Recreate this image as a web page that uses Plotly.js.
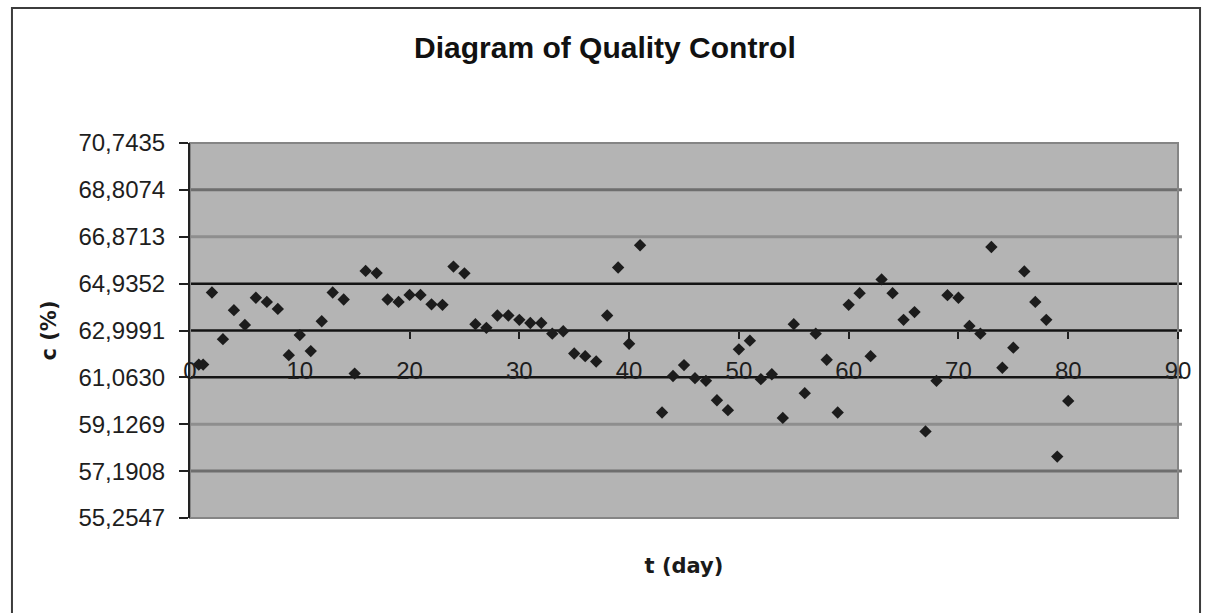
<!DOCTYPE html>
<html>
<head>
<meta charset="utf-8">
<script src="https://cdn.plot.ly/plotly-3.0.1.min.js"></script>
<style>
  html, body { margin: 0; padding: 0; background: #ffffff; }
  #chart { width: 1205px; height: 613px; }
</style>
</head>
<body>
<div id="chart"></div>
<script>
// Daily measurements of concentration c (%) over t (day)
const days = [
  0.8, 1.2, 2, 3, 4, 5, 6, 7, 8, 9, 10,
  11, 12, 13, 14, 15, 16, 17, 18, 19, 20,
  21, 22, 23, 24, 25, 26, 27, 28, 29, 30,
  31, 32, 33, 34, 35, 36, 37, 38, 39, 40,
  41, 43, 44, 45, 46, 47, 48, 49, 50,
  51, 52, 53, 54, 55, 56, 57, 58, 59, 60,
  61, 62, 63, 64, 65, 66, 67, 68, 69, 70,
  71, 72, 73, 74, 75, 76, 77, 78, 79, 80
];
const concentration = [
  61.59, 61.59, 64.57, 62.64, 63.84, 63.23, 64.35, 64.18, 63.89, 61.98, 62.81,
  62.15, 63.38, 64.57, 64.28, 61.22, 65.46, 65.37, 64.28, 64.18, 64.47,
  64.47, 64.08, 64.06, 65.64, 65.36, 63.26, 63.11, 63.62, 63.62, 63.44,
  63.31, 63.31, 62.87, 62.97, 62.05, 61.94, 61.72, 63.62, 65.60, 62.45,
  66.52, 59.61, 61.12, 61.57, 61.03, 60.92, 60.12, 59.71, 62.22,
  62.58, 60.99, 61.19, 59.39, 63.26, 60.41, 62.87, 61.79, 59.61, 64.06,
  64.54, 61.94, 65.11, 64.54, 63.44, 63.76, 58.83, 60.92, 64.46, 64.35,
  63.19, 62.87, 66.45, 61.46, 62.29, 65.44, 64.18, 63.44, 57.79, 60.09
];

// Axis ticks
const yTickValues = [55.2547, 57.1908, 59.1269, 61.0630, 62.9991, 64.9352, 66.8713, 68.8074, 70.7435];
const yTickLabels = ['55,2547', '57,1908', '59,1269', '61,0630', '62,9991', '64,9352', '66,8713', '68,8074', '70,7435'];
const xTickValues = [0, 10, 20, 30, 40, 50, 60, 70, 80, 90];
const xTickLabels = ['0', '10', '20', '30', '40', '50', '60', '70', '80', '90'];

// Level the day labels rest on, and level carrying the day tick marks
const labelLevel = yTickValues[3];
const tickLevel = yTickValues[4];

const yMin = yTickValues[0];
const yMax = yTickValues[yTickValues.length - 1];
const xMin = xTickValues[0];
const xMax = xTickValues[xTickValues.length - 1];
const toPaper = v => (v - yMin) / (yMax - yMin);

// Plot height in px, used to lift the day-label axis so its labels sit on their level line
const plotHeightPx = 613 - 143 - 95;
const dayLabelLift = 23 / plotHeightPx;

// Horizontal level lines: styles for each inner level, bottom to top
const levelStyles = [
  { color: '#6e6e6e', width: 3 },
  { color: '#8e8e8e', width: 3 },
  { color: '#141414', width: 2.5 },
  { color: '#141414', width: 2.5 },
  { color: '#141414', width: 2.5 },
  { color: '#8e8e8e', width: 3 },
  { color: '#6e6e6e', width: 3 }
];

const shapes = [];
yTickValues.slice(1, -1).forEach((v, i) => {
  shapes.push({
    type: 'line', layer: 'below',
    xref: 'paper', x0: 0, x1: 1.004,
    yref: 'y', y0: v, y1: v,
    line: { color: levelStyles[i].color, width: levelStyles[i].width }
  });
});
// plot-area border
shapes.push({
  type: 'rect', layer: 'below',
  xref: 'paper', x0: 0, x1: 1, yref: 'paper', y0: 0, y1: 1,
  line: { color: '#858585', width: 2 }
});
// chart frame
shapes.push({
  type: 'rect', layer: 'above',
  xref: 'paper', x0: -0.1802, x1: 1.0223, yref: 'paper', y0: -0.3, y1: 1.36,
  line: { color: '#3c3c3c', width: 2 }
});

const labelFont = { family: 'Liberation Sans, Arial, sans-serif', size: 24, color: '#1e1e1e' };
const axisTitleFont = { family: 'DejaVu Sans, Verdana, sans-serif', size: 21, weight: 700, color: '#1a1a1a' };

const traces = [
  {
    type: 'scatter', mode: 'markers',
    x: days, y: concentration,
    xaxis: 'x', yaxis: 'y',
    marker: { symbol: 'diamond', size: 9.5, color: '#1c1c1c', line: { width: 0 } },
    hoverinfo: 'x+y', showlegend: false
  },
  { type: 'scatter', mode: 'none', x: [], y: [], xaxis: 'x2', yaxis: 'y', hoverinfo: 'skip', showlegend: false },
  { type: 'scatter', mode: 'none', x: [], y: [], xaxis: 'x3', yaxis: 'y', hoverinfo: 'skip', showlegend: false }
];

const layout = {
  width: 1205, height: 613,
  margin: { l: 190, r: 27, t: 143, b: 95, autoexpand: false },
  paper_bgcolor: '#ffffff',
  plot_bgcolor: '#b4b4b4',
  showlegend: false,
  title: {
    text: 'Diagram of Quality Control',
    font: { family: 'Liberation Sans, Arial, sans-serif', size: 30, weight: 700, color: '#111111' },
    xref: 'container', x: 0.502, xanchor: 'center',
    yref: 'container', y: 0.923, yanchor: 'middle'
  },
  xaxis: {
    range: [xMin, xMax],
    showticklabels: false, ticks: '',
    showline: false, showgrid: false, zeroline: false,
    title: { text: 't (day)', font: axisTitleFont, standoff: 40 }
  },
  xaxis2: {
    overlaying: 'x', anchor: 'free', position: toPaper(labelLevel) + dayLabelLift,
    range: [xMin, xMax],
    tickmode: 'array', tickvals: xTickValues, ticktext: xTickLabels,
    ticks: '',
    tickfont: labelFont,
    showline: false, showgrid: false, zeroline: false
  },
  xaxis3: {
    overlaying: 'x', anchor: 'free', position: toPaper(tickLevel),
    range: [xMin, xMax],
    tickmode: 'array', tickvals: xTickValues.slice(1),
    ticks: 'outside', ticklen: 7, tickwidth: 2, tickcolor: '#1e1e1e',
    showticklabels: false,
    showline: false, showgrid: false, zeroline: false
  },
  yaxis: {
    range: [yMin, yMax],
    tickmode: 'array', tickvals: yTickValues, ticktext: yTickLabels,
    ticks: 'outside', ticklen: 9, tickwidth: 2, tickcolor: '#222222',
    ticklabelstandoff: 9,
    tickfont: labelFont,
    showline: true, linecolor: '#222222', linewidth: 2,
    showgrid: false, zeroline: false,
    title: { text: 'c (%)', font: axisTitleFont, standoff: 16 }
  },
  shapes: shapes
};

Plotly.newPlot('chart', traces, layout, { displayModeBar: false, staticPlot: true });
</script>
</body>
</html>
